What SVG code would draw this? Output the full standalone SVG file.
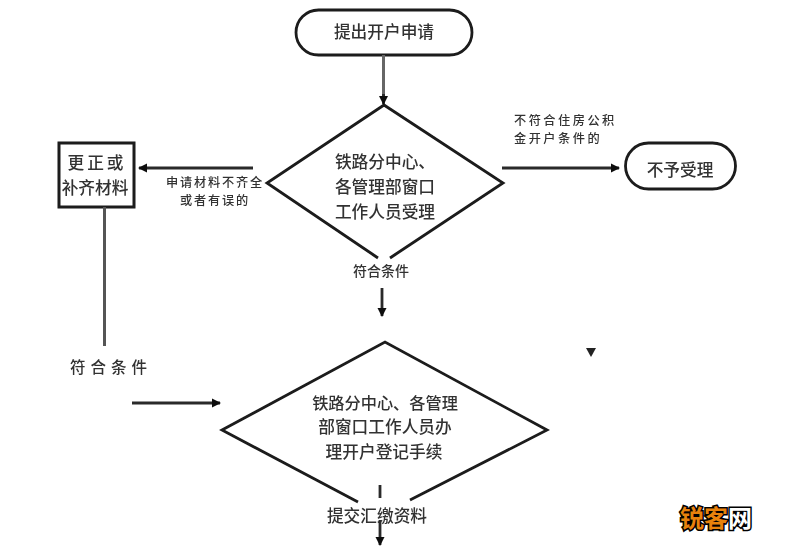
<svg xmlns="http://www.w3.org/2000/svg" width="800" height="550" viewBox="0 0 800 550">
<style>
text{font-family:"Noto Sans CJK SC","Liberation Sans",sans-serif;fill:#333;text-anchor:middle;font-weight:500}
.l{font-size:16.700px}
.m{font-size:14px}
.n{font-size:12.200px;letter-spacing:1.800px}
.r{font-size:12.200px;letter-spacing:2.500px;text-anchor:start}
.shape{fill:#fff;stroke:#1a1a1a;stroke-width:2.800}
.edge{fill:none;stroke:#2a2a2a;stroke-width:2.800}
.wm{font-size:24px;font-weight:700;stroke:#000;stroke-width:3px;paint-order:stroke;text-anchor:start}
</style>
<defs>
<filter id="soft" x="-5%" y="-5%" width="110%" height="110%"><feGaussianBlur stdDeviation="0.6"/></filter>
<marker id="arrow" markerUnits="userSpaceOnUse" markerWidth="10" markerHeight="10" refX="8" refY="5" orient="auto"><path d="M0 0.500L9 5L0 9.500Z" fill="#111"/></marker>
</defs>
<rect width="800" height="550" fill="#fff"/>
<g filter="url(#soft)">
<g id="start"><rect class="shape" x="296" y="10" width="176" height="45" rx="22.500"/><text class="l" x="384" y="38">提出开户申请</text></g>
<g id="check">
<path class="shape" d="M378 258L267 183L384 105L503 183L390 258"/>
<text class="l" x="385" y="168">铁路分中心、</text>
<text class="l" x="385" y="193">各管理部窗口</text>
<text class="l" x="385" y="218">工作人员受理</text>
</g>
<g id="label-ok1"><text class="m" x="381" y="276">符合条件</text></g>
<g id="label-incomplete"><text class="n" x="215" y="186.500">申请材料不齐全</text><text class="n" x="215" y="204.500">或者有误的</text></g>
<g id="label-reject"><text class="r" x="514" y="125">不符合住房公积</text><text class="r" x="514" y="143">金开户条件的</text></g>
<g id="reject"><rect class="shape" x="625.500" y="143" width="110" height="46" rx="23"/><text class="l" x="680" y="176">不予受理</text></g>
<g id="fix"><rect class="shape" style="stroke-width:3" x="59" y="143" width="75" height="64"/><text class="l" x="97" y="169" style="letter-spacing:3px">更正或</text><text class="l" x="95" y="194">补齐材料</text></g>
<g id="label-ok2"><text x="111" y="373" style="font-size:15.500px;letter-spacing:5px">符合条件</text></g>
<g id="register">
<path class="shape" d="M358 502L222 430L385 342L547 430L410 500"/>
<text class="l" x="385" y="409" style="font-size:16.200px">铁路分中心、各管理</text>
<text class="l" x="385" y="433">部窗口工作人员办</text>
<text class="l" x="384" y="458">理开户登记手续</text>
</g>
<g id="submit"><text class="l" x="377" y="522">提交汇缴资料</text></g>
<g id="connectors">
<path class="edge" style="stroke:#666;stroke-width:3" d="M383.500 55V96"/>
<path class="edge" marker-end="url(#arrow)" d="M383.500 94V104"/>
<path class="edge" marker-end="url(#arrow)" d="M253 168H139"/>
<path class="edge" marker-end="url(#arrow)" d="M502 168H619"/>
<path class="edge" marker-end="url(#arrow)" d="M382 288V316"/>
<path class="edge" style="stroke:#555;stroke-width:3" d="M104.500 207V346"/>
<path class="edge" marker-end="url(#arrow)" d="M132 403H220"/>
<path class="edge" d="M380 485V498"/>
<path class="edge" marker-end="url(#arrow)" d="M380 520V545"/>
<path d="M586 348H596L591 357Z" fill="#222"/>
</g>
</g>
<g id="watermark"><text class="wm" x="680" y="527" style="fill:#e8820c">锐客<tspan style="fill:#fff">网</tspan></text></g>
</svg>
